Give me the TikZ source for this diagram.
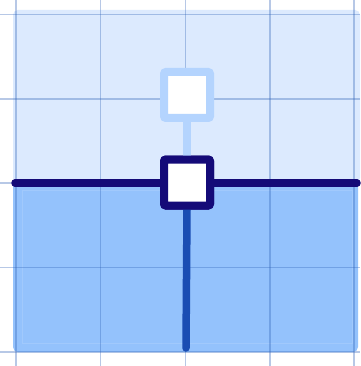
\documentclass[tikz,border=0pt]{standalone}
\begin{document}
\begin{tikzpicture}[x=1pt,y=-1pt,
  gridline/.style={draw={rgb,255:red,50;green,100;blue,185},draw opacity=0.35,line width=1.2pt},
  handle/.style={draw,fill=white,minimum size=46pt,line width=8pt,rounded corners=2pt,inner sep=0pt},
  bar/.style={line width=7.5pt,line cap=round}]
\definecolor{lightreg}{RGB}{220,234,254}
\definecolor{darkreg}{RGB}{148,194,252}
\definecolor{paleblue}{RGB}{180,212,254}
\definecolor{indigoline}{RGB}{20,10,120}
\definecolor{midblue}{RGB}{26,77,179}
\useasboundingbox (0,0) rectangle (360,366);
\fill[white] (0,0) rectangle (360,366);
% regions
\fill[lightreg,rounded corners=5pt] (13,10) rectangle (360,183);
\fill[darkreg,rounded corners=5pt] (13,183) rectangle (358,352);
\fill[darkreg] (13,183) rectangle (358,200);
\draw[white,opacity=0.12,line width=0.8pt] (22,190) rectangle (352,343);
% grid
\foreach \x in {16,100.5,185.5,270,354} \draw[gridline] (\x,0) -- (\x,366);
\foreach \y in {14.5,99,183,267.5,352} \draw[gridline] (0,\y) -- (360,\y);
% coordinates
\coordinate (L) at (15,183);
\coordinate (R) at (357,183);
\coordinate (B) at (186,348);
\node[handle,draw=paleblue] (up) at (187,95) {};
\node[handle,draw=indigoline] (hub) at (187,182.5) {};
\draw[bar,paleblue,line cap=butt] (up.south) -- (hub.north);
\draw[bar,midblue] (hub.south) -- (B);
\draw[bar,indigoline] (L) -- (L -| hub.west);
\draw[bar,indigoline] (R -| hub.east) -- (R);
\node[handle,draw=indigoline] at (hub) {};
\end{tikzpicture}
\end{document}
